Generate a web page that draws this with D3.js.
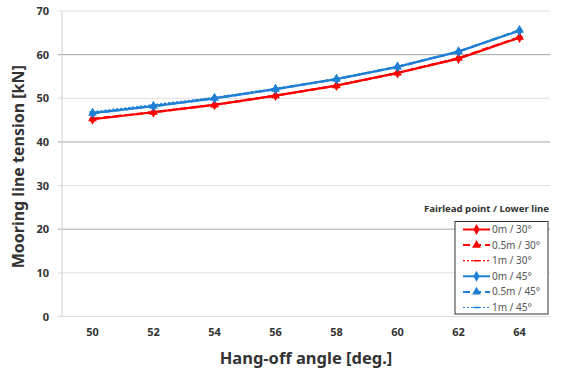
<!DOCTYPE html>
<html>
<head>
<meta charset="utf-8">
<script src="https://cdn.jsdelivr.net/npm/d3@7"></script>
<style>
  body { margin: 0; background: #fff; }
  svg { font-family: "Noto Sans", "Open Sans", sans-serif; }
</style>
</head>
<body>
<div id="chart"></div>
<script>
// hang-off angles (category axis)
const angles = ["50", "52", "54", "56", "58", "60", "62", "64"];
const yTicks = [0, 10, 20, 30, 40, 50, 60, 70];

// tension values [kN]
const t0m30 = [45.2, 46.8, 48.5, 50.6, 52.9, 55.8, 59.1, 63.9];
const t05m30 = [45.3, 46.8, 48.5, 50.6, 52.9, 55.8, 59.2, 64.0];
const t1m30 = [45.3, 46.9, 48.6, 50.6, 53.0, 55.9, 59.2, 64.0];
const t0m45 = [46.6, 48.2, 50.0, 52.1, 54.4, 57.2, 60.7, 65.5];
const t05m45 = [46.6, 48.2, 50.0, 52.1, 54.4, 57.2, 60.7, 65.6];
const t1m45 = [46.9, 48.5, 50.2, 52.2, 54.5, 57.3, 60.8, 65.6];

const seriesNames = ["0m / 30°", "0.5m / 30°", "1m / 30°", "0m / 45°", "0.5m / 45°", "1m / 45°"];
const seriesValues = [t0m30, t05m30, t1m30, t0m45, t05m45, t1m45];

const red = "#ff0000", blue = "#1f7fd4";
const styles = [
  {color: red, dash: null, marker: "diamond"},
  {color: red, dash: "7,4", marker: "triangle"},
  {color: red, dash: "2,2", marker: "dash"},
  {color: blue, dash: null, marker: "diamond"},
  {color: blue, dash: "7,4", marker: "triangle"},
  {color: blue, dash: "2,2", marker: "dash"}
];

const w = 561, h = 376;
const pLeft = 62, pRight = 550, pTop = 11, pBottom = 316.5;

const svg = d3.select("#chart").append("svg")
  .attr("width", w).attr("height", h);

const x = d3.scaleBand().domain(angles).range([pLeft, pRight]);
const y = d3.scaleLinear().domain([0, 70]).range([pBottom, pTop]);

// gridlines, every other one darker
svg.append("g").selectAll("line")
  .data(yTicks)
  .enter().append("line")
  .attr("x1", pLeft - 4).attr("x2", pRight)
  .attr("y1", d => y(d)).attr("y2", d => y(d))
  .attr("stroke", d => (d % 20 === 0 && d > 0) ? "#a6a6a6" : "#dedede")
  .attr("stroke-width", 1);

// y axis line
svg.append("line")
  .attr("x1", pLeft).attr("x2", pLeft)
  .attr("y1", pTop).attr("y2", pBottom)
  .attr("stroke", "#d0d0d0");

// y tick labels
const yAxis = d3.axisLeft(y).tickValues(yTicks).tickSize(0).tickPadding(13);
svg.append("g")
  .attr("transform", "translate(" + pLeft + ",0)")
  .call(yAxis)
  .call(g => g.select(".domain").remove())
  .selectAll("text")
  .attr("font-size", 11).attr("font-weight", "bold").attr("fill", "#333")
  .attr("font-family", "Noto Sans");

// x tick labels
const xAxis = d3.axisBottom(x).tickSize(0).tickPadding(12);
svg.append("g")
  .attr("transform", "translate(0," + pBottom + ")")
  .call(xAxis)
  .call(g => g.select(".domain").remove())
  .selectAll("text")
  .attr("font-size", 11).attr("font-weight", "bold").attr("fill", "#333")
  .attr("font-family", "Noto Sans");

// axis titles
svg.append("text")
  .attr("x", (pLeft + pRight) / 2).attr("y", 364)
  .attr("text-anchor", "middle")
  .attr("font-size", 16.5).attr("font-weight", "bold").attr("fill", "#333")
  .text("Hang-off angle [deg.]");

svg.append("text")
  .attr("transform", "translate(24," + ((pTop + pBottom) / 2 + 3) + ") rotate(-90)")
  .attr("text-anchor", "middle")
  .attr("font-size", 16).attr("font-weight", "bold").attr("fill", "#333")
  .text("Mooring line tension [kN]");

function drawMarker(g, type, cx, cy, color) {
  if (type === "diamond") {
    g.append("path")
      .attr("d", d3.symbol().type(d3.symbolDiamond).size(34)())
      .attr("transform", "translate(" + cx + "," + cy + ")")
      .attr("fill", color);
  } else if (type === "triangle") {
    g.append("path")
      .attr("d", d3.symbol().type(d3.symbolTriangle).size(34)())
      .attr("transform", "translate(" + cx + "," + cy + ")")
      .attr("fill", color);
  } else {
    g.append("line")
      .attr("x1", cx - 3).attr("x2", cx + 3)
      .attr("y1", cy).attr("y2", cy)
      .attr("stroke", color).attr("stroke-width", 1.5);
  }
}

const line = d3.line()
  .x((d, i) => x(angles[i]) + x.bandwidth() / 2)
  .y(d => y(d));

// draw dotted first, then dashed, then solid on top (per colour group)
const order = [2, 1, 0, 5, 4, 3];
order.forEach(k => {
  const st = styles[k];
  const g = svg.append("g");
  g.append("path")
    .datum(seriesValues[k])
    .attr("d", line)
    .attr("fill", "none")
    .attr("stroke", st.color)
    .attr("stroke-width", st.dash === "2,2" ? 1.5 : 2.2)
    .attr("stroke-dasharray", st.dash);
  seriesValues[k].forEach((v, i) => {
    drawMarker(g, st.marker, x(angles[i]) + x.bandwidth() / 2, y(v), st.color);
  });
});

// legend
svg.append("text")
  .attr("x", 549).attr("y", 212)
  .attr("text-anchor", "end")
  .attr("font-size", 9.6).attr("font-weight", "bold").attr("fill", "#333")
  .text("Fairlead point / Lower line");

const legend = svg.append("g").attr("id", "legend");
legend.append("rect")
  .attr("x", 455).attr("y", 221.5)
  .attr("width", 93).attr("height", 92.5)
  .attr("fill", "#fff").attr("stroke", "#333").attr("stroke-width", 1);

seriesNames.forEach((name, k) => {
  const st = styles[k];
  const ly = 229.5 + k * 15.6;
  legend.append("line")
    .attr("x1", 463).attr("x2", 490)
    .attr("y1", ly).attr("y2", ly)
    .attr("stroke", st.color)
    .attr("stroke-width", st.dash === "2,2" ? 1.2 : 2)
    .attr("stroke-dasharray", st.dash);
  drawMarker(legend, st.marker, 476.5, ly, st.color);
  legend.append("text")
    .attr("x", 492).attr("y", ly + 3.5)
    .attr("font-size", 10).attr("fill", "#555")
    .text(name);
});
</script>
</body>
</html>
